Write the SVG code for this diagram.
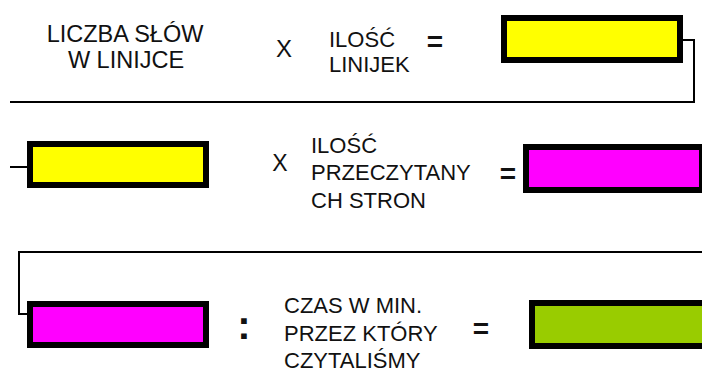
<svg xmlns="http://www.w3.org/2000/svg" width="702" height="372" viewBox="0 0 702 372">
<style>
  .t { font-family: "Liberation Sans", Arial, sans-serif; font-size: 22px; fill: #111; }
  .op { font-family: "Liberation Sans", Arial, sans-serif; font-weight: bold; fill: #111; text-anchor: middle; }
  .box { stroke: #000; stroke-width: 6; }
  .conn { fill: none; stroke: #000; stroke-width: 2; }
</style>
<rect width="702" height="372" fill="#ffffff"/>
<g id="connectors">
  <polyline class="conn" points="683,40 694,40 694,102 10,102"/>
  <line class="conn" x1="10" y1="167" x2="28" y2="167"/>
  <polyline class="conn" points="702,252 19,252 19,314 35,314"/>
</g>
<g id="row1-label">
  <text class="t" x="125" y="42" text-anchor="middle" style="font-size:23.5px">LICZBA SŁÓW</text>
  <text class="t" x="126" y="68" text-anchor="middle" style="font-size:23.5px">W LINIJCE</text>
</g>
<g id="row1-x"><text class="t" x="284" y="57" text-anchor="middle" style="font-size:24px">X</text></g>
<g id="row1-label2">
  <text class="t" x="329" y="47">ILOŚĆ</text>
  <text class="t" x="329" y="72">LINIJEK</text>
</g>
<g id="row1-eq"><text class="op" x="435" y="51" style="font-size:28px">=</text></g>
<g id="box-yellow-1"><rect class="box" x="504" y="18" width="176" height="42" fill="#ffff00"/></g>

<g id="box-yellow-2"><rect class="box" x="30" y="144" width="176" height="41" fill="#ffff00"/></g>
<g id="row2-x"><text class="t" x="280" y="171" text-anchor="middle" style="font-size:23px">X</text></g>
<g id="row2-label">
  <text class="t" x="311" y="153">ILOŚĆ</text>
  <text class="t" x="311" y="180">PRZECZYTANY</text>
  <text class="t" x="311" y="208">CH STRON</text>
</g>
<g id="row2-eq"><text class="op" x="508" y="183" style="font-size:28px">=</text></g>
<g id="box-magenta-1"><rect class="box" x="526" y="147" width="176" height="43" fill="#ff00ff"/></g>

<g id="box-magenta-2"><rect class="box" x="30" y="304" width="176" height="41" fill="#ff00ff"/></g>
<g id="row3-colon"><text class="op" x="244" y="339" style="font-size:40px">:</text></g>
<g id="row3-label">
  <text class="t" x="284" y="313">CZAS W MIN.</text>
  <text class="t" x="284" y="341">PRZEZ KTÓRY</text>
  <text class="t" x="284" y="368">CZYTALIŚMY</text>
</g>
<g id="row3-eq"><text class="op" x="481" y="338" style="font-size:28px">=</text></g>
<g id="box-green"><rect class="box" x="532" y="303" width="180" height="43" fill="#99cc00"/></g>
</svg>
